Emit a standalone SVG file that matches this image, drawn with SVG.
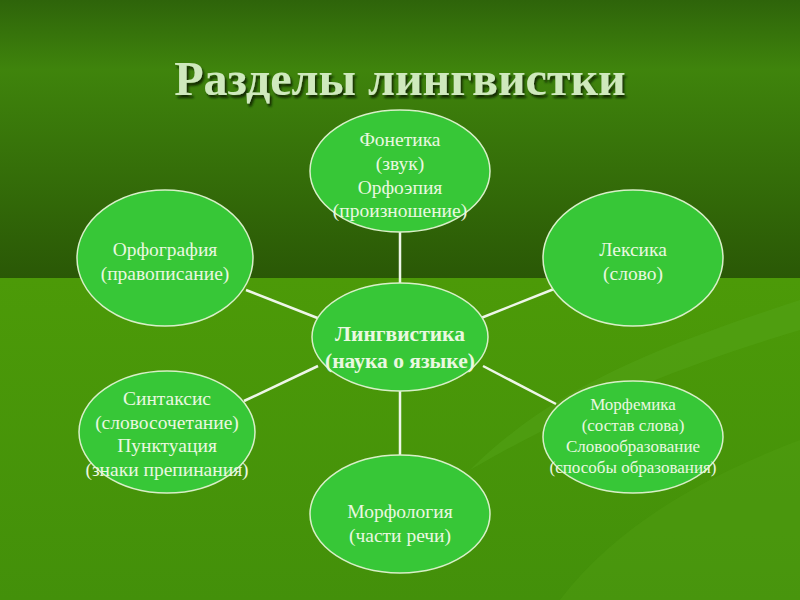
<svg xmlns="http://www.w3.org/2000/svg" width="800" height="600" viewBox="0 0 800 600">
<defs>
<linearGradient id="topbg" x1="0" y1="0" x2="0" y2="1">
<stop offset="0" stop-color="#2e640a"/>
<stop offset="0.25" stop-color="#3f840c"/>
<stop offset="1" stop-color="#2a5806"/>
</linearGradient>
<linearGradient id="botbg" x1="0" y1="0" x2="0" y2="1">
<stop offset="0" stop-color="#4c9a08"/>
<stop offset="1" stop-color="#43900a"/>
</linearGradient>
<filter id="sh" x="-10%" y="-10%" width="120%" height="130%">
<feDropShadow dx="2" dy="3" stdDeviation="1.2" flood-color="#0a2200" flood-opacity="0.9"/>
</filter>
<style>
.node ellipse{fill:#37c737;stroke:#d8f0c8;stroke-width:1.5}
.t{font-family:"Liberation Serif","Times New Roman",serif;fill:#eaf8e0;text-anchor:middle;font-size:19.5px}
.b{font-weight:bold;font-size:21.5px}
.s{font-size:17px}
.conn line{stroke:#eef6e8;stroke-width:2.5}
</style>
</defs>
<rect x="0" y="0" width="800" height="278" fill="url(#topbg)"/>
<rect x="0" y="278" width="800" height="322" fill="url(#botbg)"/>
<path d="M470,470 C560,380 680,340 800,300 L800,330 C700,360 590,400 470,470 Z" fill="#5aa820" opacity="0.35"/>
<path d="M560,600 C620,520 720,470 800,440 L800,600 Z" fill="#55a318" opacity="0.3"/>
<text x="400" y="95" text-anchor="middle" font-family="'Liberation Serif','Times New Roman',serif" font-weight="bold" font-size="48" fill="#cfe9bd" filter="url(#sh)">Разделы лингвистки</text>
<g class="conn">
<line x1="400" y1="231" x2="400" y2="284"/>
<line x1="246" y1="290" x2="320" y2="319"/>
<line x1="481" y1="318" x2="554" y2="289"/>
<line x1="400" y1="390" x2="400" y2="456"/>
<line x1="318" y1="366" x2="244" y2="401"/>
<line x1="483" y1="366" x2="556" y2="404"/>
</g>
<g id="fonetika" class="node">
<ellipse cx="400" cy="171" rx="90" ry="61"/>
<text class="t" x="400" y="146">Фонетика</text>
<text class="t" x="400" y="170">(звук)</text>
<text class="t" x="400" y="194">Орфоэпия</text>
<text class="t" x="400" y="217">(произношение)</text>
</g>
<g id="orfografiya" class="node">
<ellipse cx="165" cy="258" rx="88" ry="68"/>
<text class="t" x="165" y="256">Орфография</text>
<text class="t" x="165" y="280">(правописание)</text>
</g>
<g id="leksika" class="node">
<ellipse cx="633" cy="258" rx="90" ry="68"/>
<text class="t" x="633" y="256">Лексика</text>
<text class="t" x="633" y="280">(слово)</text>
</g>
<g id="lingvistika" class="node">
<ellipse cx="400" cy="337" rx="88" ry="54"/>
<text class="t b" x="400" y="341">Лингвистика</text>
<text class="t b" x="400" y="368">(наука о языке)</text>
</g>
<g id="sintaksis" class="node">
<ellipse cx="167" cy="432" rx="88" ry="61"/>
<text class="t" x="167" y="405">Синтаксис</text>
<text class="t" x="167" y="429">(словосочетание)</text>
<text class="t" x="167" y="452">Пунктуация</text>
<text class="t" x="167" y="476">(знаки препинания)</text>
</g>
<g id="morfemika" class="node">
<ellipse cx="633" cy="437" rx="90" ry="56"/>
<text class="t s" x="633" y="410">Морфемика</text>
<text class="t s" x="633" y="431">(состав слова)</text>
<text class="t s" x="633" y="452">Словообразование</text>
<text class="t s" x="633" y="473">(способы образования)</text>
</g>
<g id="morfologiya" class="node">
<ellipse cx="400" cy="514" rx="90" ry="59"/>
<text class="t" x="400" y="518">Морфология</text>
<text class="t" x="400" y="542">(части речи)</text>
</g>
</svg>
